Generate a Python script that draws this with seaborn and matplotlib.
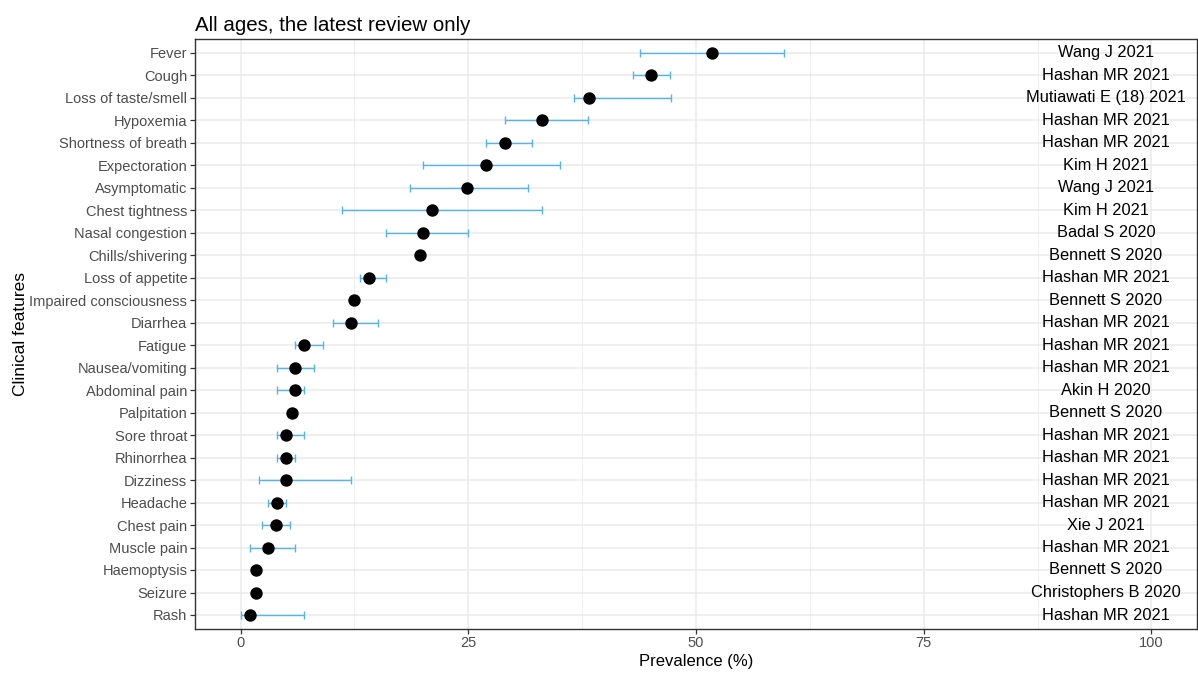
import numpy as np
import pandas as pd
import matplotlib
matplotlib.use("Agg")
import matplotlib.pyplot as plt
import seaborn as sns

features = ["Fever", "Cough", "Loss of taste/smell", "Hypoxemia", "Shortness of breath",
            "Expectoration", "Asymptomatic", "Chest tightness", "Nasal congestion",
            "Chills/shivering", "Loss of appetite", "Impaired consciousness", "Diarrhea",
            "Fatigue", "Nausea/vomiting", "Abdominal pain", "Palpitation", "Sore throat",
            "Rhinorrhea", "Dizziness", "Headache", "Chest pain", "Muscle pain",
            "Haemoptysis", "Seizure", "Rash"]
prevalence = [51.8, 45.1, 38.3, 33.1, 29.0, 27.0, 24.9, 21.0, 20.0, 19.7, 14.1, 12.5, 12.1,
              7.0, 6.0, 6.0, 5.6, 5.0, 5.0, 5.0, 4.0, 3.9, 3.0, 1.7, 1.7, 1.0]
lower = [43.9, 43.1, 36.6, 29.0, 27.0, 20.0, 18.6, 11.1, 16.0, np.nan, 13.1, np.nan, 10.1,
         6.0, 4.0, 4.0, np.nan, 4.0, 4.0, 2.0, 3.0, 2.4, 1.0, np.nan, np.nan, 0.0]
upper = [59.7, 47.2, 47.3, 38.1, 32.0, 35.1, 31.6, 33.1, 25.0, np.nan, 16.0, np.nan, 15.1,
         9.0, 8.1, 7.0, np.nan, 7.0, 6.0, 12.1, 5.0, 5.4, 6.0, np.nan, np.nan, 7.0]
sources = ["Wang J 2021", "Hashan MR 2021", "Mutiawati E (18) 2021", "Hashan MR 2021",
           "Hashan MR 2021", "Kim H 2021", "Wang J 2021", "Kim H 2021", "Badal S 2020",
           "Bennett S 2020", "Hashan MR 2021", "Bennett S 2020", "Hashan MR 2021",
           "Hashan MR 2021", "Hashan MR 2021", "Akin H 2020", "Bennett S 2020",
           "Hashan MR 2021", "Hashan MR 2021", "Hashan MR 2021", "Hashan MR 2021",
           "Xie J 2021", "Hashan MR 2021", "Bennett S 2020", "Christophers B 2020",
           "Hashan MR 2021"]

df = pd.DataFrame({"feature": features, "prev": prevalence, "lo": lower, "hi": upper,
                   "source": sources})
df["pos"] = np.arange(len(df))

sns.set_theme(style="white")
plt.rcParams["font.family"] = ["Liberation Sans", "DejaVu Sans"]

fig = plt.figure(figsize=(11.98, 6.75), dpi=100)
ax = fig.add_axes([195 / 1198, 1 - 628.5 / 675, (1197 - 195) / 1198, (628.5 - 39) / 675])

# Grid: major and minor vertical lines, one horizontal line per feature
for v in [12.5, 37.5, 62.5, 87.5]:
    ax.axvline(v, color="#EBEBEB", lw=0.6, zorder=0)
for v in [0, 25, 50, 75, 100]:
    ax.axvline(v, color="#EBEBEB", lw=1.1, zorder=0)
for p in df["pos"]:
    ax.axhline(p, color="#EBEBEB", lw=1.1, zorder=0)

# Confidence intervals
ci = df.dropna(subset=["lo", "hi"])
ax.errorbar(x=ci["prev"], y=ci["pos"],
            xerr=[ci["prev"] - ci["lo"], ci["hi"] - ci["prev"]],
            fmt="none", ecolor="#56B4E9", elinewidth=1.0, capsize=3.2, capthick=1.0,
            zorder=2)

sns.scatterplot(data=df, x="prev", y="pos", color="black", s=80, edgecolor="black",
                linewidth=0, ax=ax, zorder=3, legend=False)

for p, s in zip(df["pos"], df["source"]):
    ax.text(95, p, s, ha="center", va="center", fontsize=11.8, color="black", zorder=4)

ax.set_xlim(-5, 105)
ax.set_ylim(len(df) - 1 + 0.6, -0.6)
ax.set_xticks([0, 25, 50, 75, 100])
ax.set_xticklabels(["0", "25", "50", "75", "100"])
ax.set_yticks(df["pos"])
ax.set_yticklabels(df["feature"])
ax.tick_params(axis="both", which="major", length=3.5, width=0.9, color="#333333",
               labelsize=10.5, labelcolor="#4D4D4D", pad=2, left=True, bottom=True)
for sp in ax.spines.values():
    sp.set_color("#333333")
    sp.set_linewidth(1.0)
    sp.set_visible(True)

ax.set_xlabel("Prevalence (%)", fontsize=12, color="black", labelpad=3)
ax.set_ylabel("Clinical features", fontsize=12.5, color="black", labelpad=4)
ax.yaxis.set_label_coords(-167 / 1002, 0.5)
ax.set_title("All ages, the latest review only", loc="left", fontsize=14.8,
             color="black", pad=6)

fig.savefig("out.png", dpi=100)
